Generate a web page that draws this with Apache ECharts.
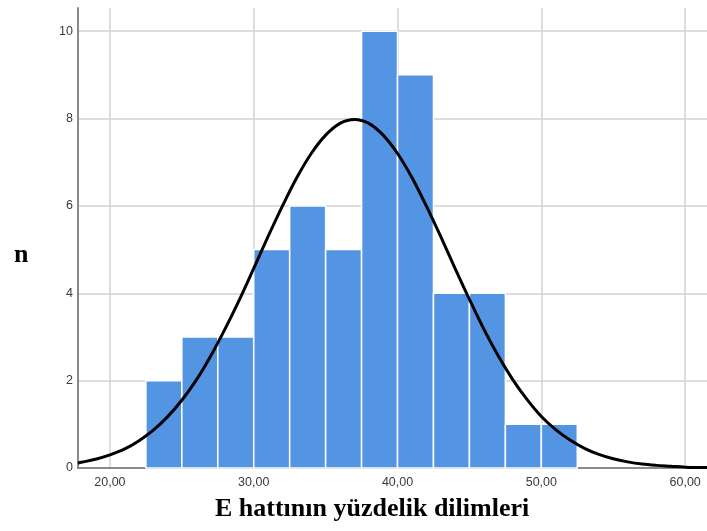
<!DOCTYPE html>
<html>
<head>
<meta charset="utf-8">
<script src="https://cdn.jsdelivr.net/npm/echarts@6/dist/echarts.min.js"></script>
<style>html,body{margin:0;padding:0;background:#fff;}#c{width:707px;height:531px;}</style>
</head>
<body>
<div id="c"></div>
<script>
// Histogram bins (lower edge, upper edge) and counts
const binStarts = [22.5, 25, 27.5, 30, 32.5, 35, 37.5, 40, 42.5, 45, 47.5, 50];
const binEnds   = [25, 27.5, 30, 32.5, 35, 37.5, 40, 42.5, 45, 47.5, 50, 52.5];
const counts    = [2, 3, 3, 5, 6, 5, 10, 9, 4, 4, 1, 1];
// Normal curve points
const curveX = [17.78, 18, 19, 20, 21, 22, 23, 24, 25, 26, 27, 28, 29, 30, 31, 32, 33, 34, 35, 36, 37, 38, 39, 40, 41, 42, 43, 44, 45, 46, 47, 48, 49, 50, 51, 52, 53, 54, 55, 56, 57, 58, 59, 60, 61, 61.52];
const curveY = [0.11, 0.13, 0.20, 0.30, 0.43, 0.62, 0.86, 1.17, 1.55, 2.01, 2.56, 3.18, 3.85, 4.57, 5.30, 6.00, 6.65, 7.20, 7.62, 7.89, 7.98, 7.89, 7.62, 7.20, 6.65, 6.00, 5.30, 4.57, 3.86, 3.18, 2.57, 2.03, 1.57, 1.18, 0.88, 0.64, 0.45, 0.31, 0.21, 0.14, 0.09, 0.06, 0.04, 0.02, 0.01, 0.01];
const xTicks = [20, 30, 40, 50, 60];
const yTicks = [0, 2, 4, 6, 8, 10];
const xTitle = 'E hattının yüzdelik dilimleri';
const yTitle = 'n';

const chart = echarts.init(document.getElementById('c'), null, {renderer: 'canvas'});
const barData = counts.map((c, i) => [binStarts[i], binEnds[i], c]);
const gridColor = '#d2d2d2';
const labelFont = {color: '#3a3a3a', fontSize: 12.5, fontFamily: 'Arial, "Liberation Sans", sans-serif'};
const option = {
  animation: false,
  backgroundColor: '#ffffff',
  grid: {left: 78, top: 8, right: 0, bottom: 63, containLabel: false},
  xAxis: {
    type: 'value', min: 17.78, max: 61.52,
    axisLine: {show: true, onZero: false, lineStyle: {color: '#8a8a8a', width: 2}},
    axisTick: {show: false},
    splitLine: {show: false},
    axisLabel: Object.assign({
      customValues: xTicks, margin: 8,
      formatter: v => v.toFixed(2).replace('.', ',')
    }, labelFont)
  },
  yAxis: {
    type: 'value', min: 0, max: 10.53,
    axisLine: {show: true, lineStyle: {color: '#8a8a8a', width: 2}},
    axisTick: {show: false},
    splitLine: {show: false},
    axisLabel: Object.assign({customValues: yTicks, margin: 5}, labelFont)
  },
  graphic: [
    {type: 'text', left: 14, top: 242, style: {text: yTitle, font: 'bold 26px "Liberation Serif", "Times New Roman", serif', fill: '#000'}},
    {type: 'text', left: 215, top: 496, style: {text: xTitle, font: 'bold 26px "Liberation Serif", "Times New Roman", serif', fill: '#000'}}
  ],
  series: [
    {
      type: 'line', data: [], silent: true, z: 0,
      markLine: {
        silent: true, symbol: 'none', z: 0, animation: false,
        label: {show: false},
        lineStyle: {color: gridColor, width: 1.5, type: 'solid'},
        data: xTicks.map(v => ({xAxis: v})).concat(yTicks.filter(v => v > 0).map(v => ({yAxis: v})))
      }
    },
    {
      type: 'custom', z: 2,
      data: barData,
      encode: {x: [0, 1], y: 2},
      renderItem: function (params, api) {
        const p0 = api.coord([api.value(0), api.value(2)]);
        const p1 = api.coord([api.value(1), 0]);
        return {
          type: 'rect',
          shape: {x: p0[0], y: p0[1], width: p1[0] - p0[0], height: p1[1] - p0[1]},
          style: {fill: '#5394e3', stroke: '#ffffff', lineWidth: 1.5}
        };
      }
    },
    {
      type: 'line', z: 3, smooth: 0.35, showSymbol: false, silent: true,
      data: curveX.map((x, i) => [x, curveY[i]]),
      lineStyle: {color: '#000', width: 3}
    }
  ]
};
chart.setOption(option);
</script>
</body>
</html>
